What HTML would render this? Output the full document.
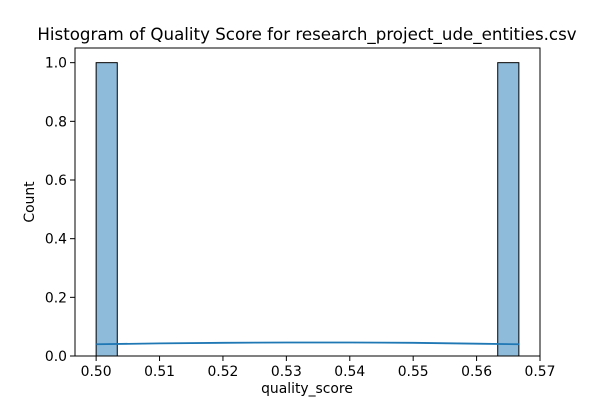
<!DOCTYPE html>
<html><head><meta charset="utf-8"><style>
body{margin:0;background:#fff;font-family:"Liberation Sans","DejaVu Sans",sans-serif}
text{font-family:"DejaVu Sans","Liberation Sans",sans-serif}
</style></head><body>
<svg id="chart" width="600" height="400">
<rect width="600" height="400" fill="#fff"/>
<text x="307" y="40" font-size="16.67" text-anchor="middle">Histogram of Quality Score for research_project_ude_entities.csv</text>
<g id="bars"></g>
<g id="kde"></g>
<g id="xticks"></g>
<g id="yticks"></g>
<rect x="75" y="48" width="465" height="308" fill="none" stroke="#000" stroke-width="1"/>
<text x="307" y="393" font-size="13.9" text-anchor="middle">quality_score</text>
<text transform="translate(34,202) rotate(-90)" font-size="13.9" text-anchor="middle">Count</text>
</svg>
<script>
const binStart = 0.5;
const binWidth = 0.0666667/20;
const counts = [1,0,0,0,0,0,0,0,0,0,0,0,0,0,0,0,0,0,0,1];
const kdeX = [0.5,0.51,0.52,0.53,0.54,0.55,0.56,0.5667];
const kdeY = [0.040,0.043,0.045,0.046,0.046,0.045,0.042,0.040];
const xTicks = [0.50,0.51,0.52,0.53,0.54,0.55,0.56,0.57];
const yTicks = [0.0,0.2,0.4,0.6,0.8,1.0];
const X0=75,X1=540,Y0=356,Y1=48,xmin=0.496667,xmax=0.57,ymin=0,ymax=1.05;
const sx=v=>X0+(v-xmin)/(xmax-xmin)*(X1-X0);
const sy=v=>Y0-(v-ymin)/(ymax-ymin)*(Y0-Y1);
const NS="http://www.w3.org/2000/svg";
const mk=(t,a,p)=>{const e=document.createElementNS(NS,t);for(const k in a)e.setAttribute(k,a[k]);p.appendChild(e);return e;};
const bars=document.getElementById('bars');
counts.forEach((c,i)=>{if(!c)return;
 const x=sx(binStart+i*binWidth),w=sx(binStart+(i+1)*binWidth)-x;
 const r=mk('rect',{x:x,y:sy(c),width:w,height:sy(0)-sy(c),fill:'#8fbbda',stroke:'#000','stroke-width':1},bars);
 
 
});
const kde=document.getElementById('kde');
const pl=mk('polyline',{points:kdeX.map((v,i)=>sx(v)+','+sy(kdeY[i])).join(' '),fill:'none',stroke:'#1f77b4','stroke-width':1.8},kde);


const xt=document.getElementById('xticks');
xTicks.forEach(v=>{const x=sx(v);
 mk('line',{x1:x,x2:x,y1:Y0,y2:Y0+5,stroke:'#000'},xt);
 const t=mk('text',{x:x,y:Y0+20,'font-size':13.9,'text-anchor':'middle'},xt);t.textContent=v.toFixed(2);
 
 
});
const yt=document.getElementById('yticks');
yTicks.forEach(v=>{const y=sy(v);
 mk('line',{x1:X0-5,x2:X0,y1:y,y2:y,stroke:'#000'},yt);
 const t=mk('text',{x:X0-8,y:y+5,'font-size':13.9,'text-anchor':'end'},yt);t.textContent=v.toFixed(1);
 
 
});
</script>
</body></html>
